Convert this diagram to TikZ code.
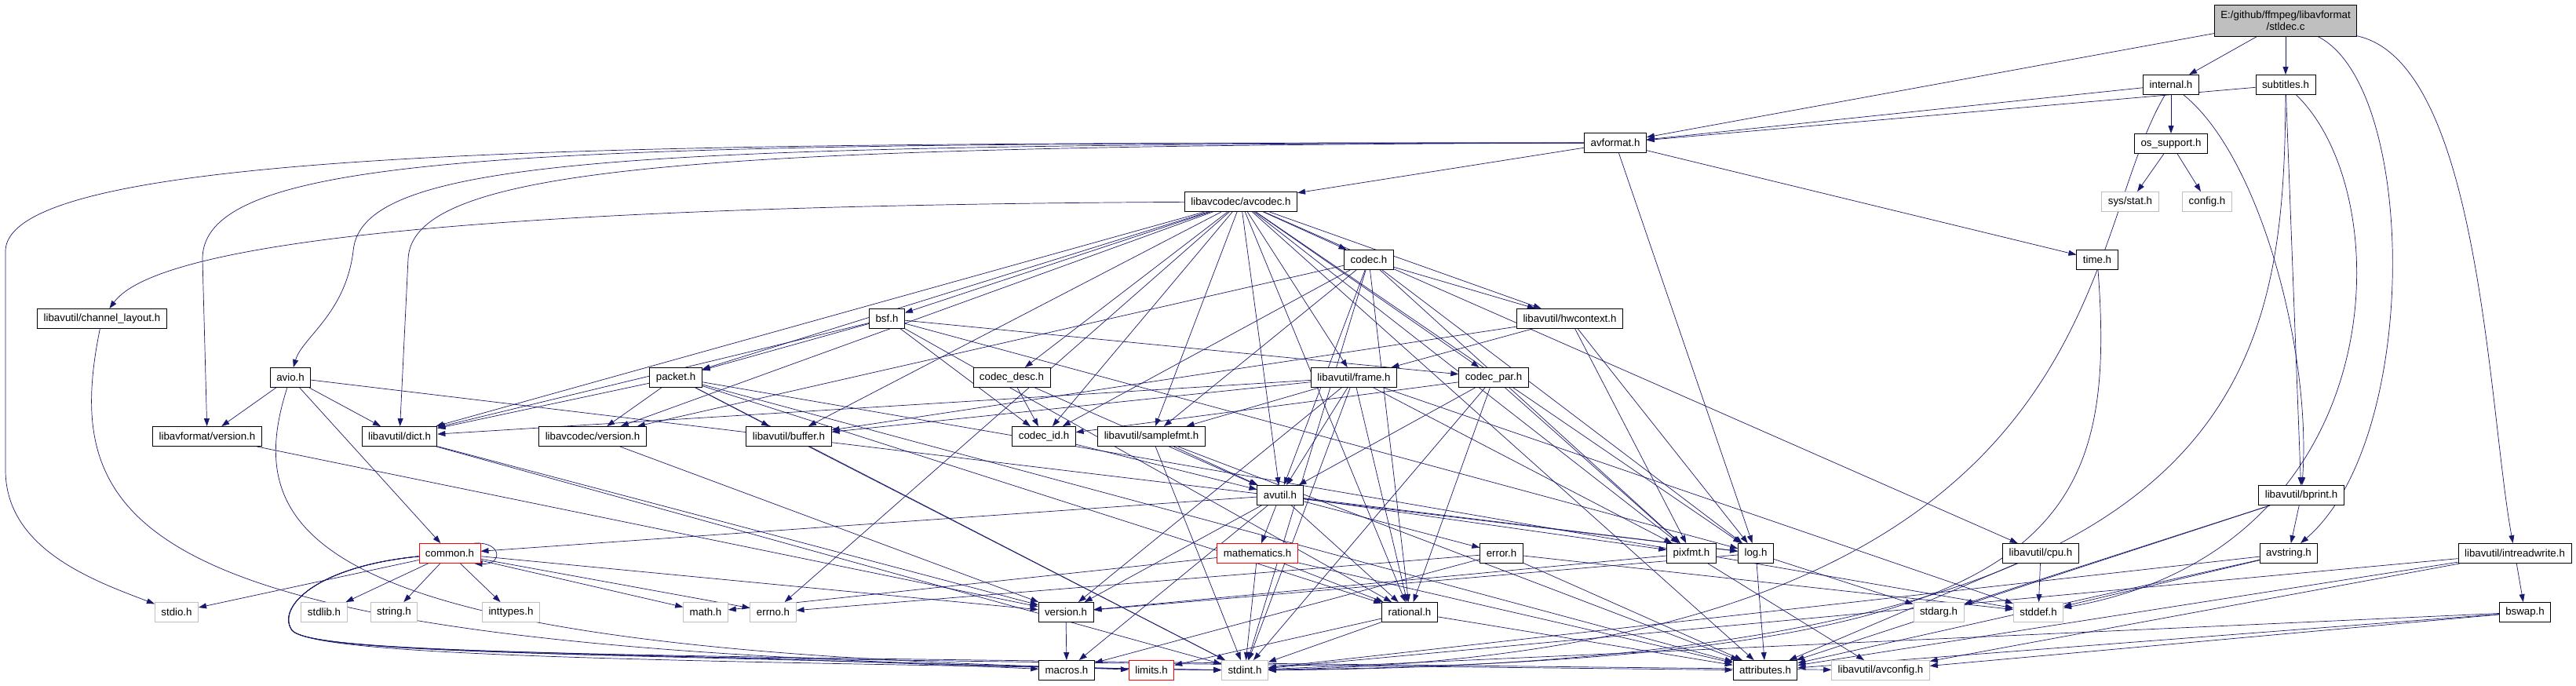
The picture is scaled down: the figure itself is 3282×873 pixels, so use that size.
\documentclass[tikz,border=0pt]{standalone}
\usepackage{fontspec}
\setmainfont{Liberation Sans}
\usetikzlibrary{arrows.meta}
\definecolor{navyblue}{RGB}{25,25,112}
\pgfdeclarelayer{background}
\pgfsetlayers{background,main}
\begin{document}
\begin{tikzpicture}[
  x=1pt, y=-1pt,
  file/.style={rectangle, draw=black, fill=white, line width=0.9pt,
               minimum height=25pt, inner xsep=8pt, inner ysep=0pt,
               font=\fontsize{13.3}{15}\selectfont},
  sysfile/.style={file, draw=gray!50},
  trunc/.style={file, draw=red},
  mainfile/.style={file, fill=gray!50, align=center, minimum height=40pt},
  edge/.style={-{Triangle[length=10pt,width=7pt]}, navyblue, line width=0.7pt}
]
  \useasboundingbox (0,0) rectangle (3282,873);

  % Top
  \node[mainfile] (stldec) at (2912,26) {E:/github/ffmpeg/libavformat\\/stldec.c};
  \node[file] (internal) at (2766,108) {internal.h};
  \node[file] (subtitles) at (2912,108) {subtitles.h};
  \node[file] (osupport) at (2766,183) {os\_support.h};
  \node[sysfile] (sysstat) at (2714,257) {sys/stat.h};
  \node[sysfile] (config) at (2812,257) {config.h};
  \node[file] (avformat) at (2058,182) {avformat.h};
  \node[file] (avcodec) at (1581,257) {libavcodec/avcodec.h};
  \node[file] (time) at (2672,331) {time.h};
  \node[file] (codec) at (1744,331) {codec.h};

  % libavcodec / libavformat headers
  \node[file] (chlayout) at (130,406) {libavutil/channel\_layout.h};
  \node[file] (bsf) at (1130,406) {bsf.h};
  \node[file] (hwcontext) at (2000,406) {libavutil/hwcontext.h};
  \node[file] (avio) at (370,481) {avio.h};
  \node[file] (packet) at (861,481) {packet.h};
  \node[file] (codecdesc) at (1289,481) {codec\_desc.h};
  \node[file] (frame) at (1725,481) {libavutil/frame.h};
  \node[file] (codecpar) at (1903,481) {codec\_par.h};
  \node[file] (fmtversion) at (264,556) {libavformat/version.h};
  \node[file] (dict) at (509,556) {libavutil/dict.h};
  \node[file] (avcversion) at (755,556) {libavcodec/version.h};
  \node[file] (buffer) at (1005,556) {libavutil/buffer.h};
  \node[file] (codecid) at (1330,556) {codec\_id.h};
  \node[file] (samplefmt) at (1467,556) {libavutil/samplefmt.h};

  % libavutil headers
  \node[file] (avutil) at (1631,631) {avutil.h};
  \node[file] (bprint) at (2932,631) {libavutil/bprint.h};
  \node[trunc] (common) at (573,705) {common.h};
  \node[trunc] (mathematics) at (1602,705) {mathematics.h};
  \node[file] (error) at (1913,705) {error.h};
  \node[file] (pixfmt) at (2155,705) {pixfmt.h};
  \node[file] (log) at (2237,705) {log.h};
  \node[file] (cpu) at (2600,705) {libavutil/cpu.h};
  \node[file] (avstring) at (2916,705) {avstring.h};
  \node[file] (intreadwrite) at (3204,705) {libavutil/intreadwrite.h};
  \node[file] (version) at (1358,780) {version.h};
  \node[file] (rational) at (1796,780) {rational.h};
  \node[file] (bswap) at (3217,780) {bswap.h};
  \node[file] (macros) at (1359,854) {macros.h};
  \node[trunc] (limits) at (1467,854) {limits.h};
  \node[file] (attributes) at (2249,854) {attributes.h};

  % System headers
  \node[sysfile] (stdio) at (225,780) {stdio.h};
  \node[sysfile] (stdlib) at (413,780) {stdlib.h};
  \node[sysfile] (string) at (502,780) {string.h};
  \node[sysfile] (inttypes) at (651,780) {inttypes.h};
  \node[sysfile] (math) at (899,780) {math.h};
  \node[sysfile] (errno) at (985,780) {errno.h};
  \node[sysfile] (stdarg) at (2470,780) {stdarg.h};
  \node[sysfile] (stddef) at (2597,780) {stddef.h};
  \node[sysfile] (stdint) at (1586,854) {stdint.h};
  \node[sysfile] (avconfig) at (2396,854) {libavutil/avconfig.h};

  \begin{pgfonlayer}{background}
  % Straight includes
  \foreach \a/\b in {stldec/internal, stldec/subtitles, stldec/avformat,
      internal/avformat, internal/osupport, subtitles/avformat, subtitles/bprint,
      osupport/sysstat, osupport/config,
      avformat/avcodec, avformat/time, avformat/log} {
    \draw[edge] (\a) -- (\b);
  }
  \foreach \b in {errno, samplefmt, attributes, avutil, buffer, cpu, dict, frame,
      hwcontext, log, pixfmt, rational, bsf, codec, codecdesc, codecid, codecpar,
      packet, avcversion} {
    \draw[edge] (avcodec) -- (\b);
  }
  \foreach \b in {stdint, avutil, hwcontext, log, pixfmt, rational, samplefmt,
      codecid, avcversion} {
    \draw[edge] (codec) -- (\b);
  }
  \foreach \a/\b in {bsf/dict, bsf/log, bsf/rational, bsf/codecid, bsf/codecpar,
      bsf/packet, codecdesc/avutil, codecdesc/codecid, codecid/avutil,
      codecpar/stdint, codecpar/avutil, codecpar/rational, codecpar/pixfmt,
      codecpar/codecid,
      packet/stddef, packet/stdint, packet/attributes, packet/buffer, packet/dict,
      packet/rational, packet/avcversion,
      hwcontext/buffer, hwcontext/frame, hwcontext/log, hwcontext/pixfmt,
      frame/stddef, frame/stdint, frame/avutil, frame/buffer, frame/dict,
      frame/rational, frame/samplefmt, frame/pixfmt, frame/version,
      samplefmt/stdint, samplefmt/avutil, samplefmt/attributes,
      buffer/stdint, dict/stdint, dict/version,
      avio/common, avio/dict, avio/log, avio/fmtversion,
      fmtversion/version, avcversion/version} {
    \draw[edge] (\a) -- (\b);
  }
  \foreach \b in {common, error, rational, version, macros, mathematics, log, pixfmt} {
    \draw[edge] (avutil) -- (\b);
  }
  \foreach \b in {errno, inttypes, math, stdio, stdlib, string, version} {
    \draw[edge] (common) -- (\b);
  }
  \foreach \a/\b in {mathematics/stdint, mathematics/math, mathematics/attributes,
      mathematics/rational, error/errno, error/stddef, error/attributes,
      error/macros, rational/stdint, rational/limits, rational/attributes,
      pixfmt/avconfig, pixfmt/version, log/stdarg, log/attributes, log/version,
      cpu/stddef, cpu/attributes, bprint/stdarg, bprint/attributes,
      bprint/avstring, avstring/stddef, avstring/stdint, avstring/attributes,
      intreadwrite/stdint, intreadwrite/avconfig, intreadwrite/attributes,
      intreadwrite/bswap, bswap/stdint, bswap/avconfig, bswap/attributes,
      version/macros} {
    \draw[edge] (\a) -- (\b);
  }

  % Routed includes
  \draw[edge] (stldec) .. controls (3080,110) and (3085,560) .. (avstring);
  \draw[edge] (stldec) .. controls (3160,80) and (3170,520) .. (intreadwrite);
  \draw[edge] (internal) .. controls (2880,200) and (2945,450) .. (bprint);
  \draw[edge] (internal) .. controls (2640,320) and (2700,830) .. (stdint);
  \draw[edge] (subtitles) .. controls (2910,500) and (2850,845) .. (stdint);
  \draw[edge] (subtitles) .. controls (3060,250) and (3050,700) .. (stddef);
  \draw[edge] (avformat) .. controls (900,182) and (8,180) .. (7,320)
    -- (7,600) .. controls (8,700) and (120,740) .. (stdio);
  \draw[edge] (avformat) .. controls (700,182) and (258,190) .. (258,330)
    -- (fmtversion);
  \draw[edge] (avformat) .. controls (800,184) and (460,200) .. (450,320)
    .. controls (440,400) and (385,430) .. (avio);
  \draw[edge] (avformat) .. controls (900,186) and (525,210) .. (520,330)
    -- (dict);
  \draw[edge] (avcodec) .. controls (600,262) and (200,310) .. (chlayout);
  \draw[edge] (chlayout) .. controls (70,700) and (200,838) .. (stdint);
  \draw[edge] (avio) .. controls (300,700) and (420,840) .. (stdint);
  \draw[edge] (time) .. controls (2700,700) and (2600,840) .. (stdint);
  \foreach \b/\y in {stdint/842, attributes/838, avconfig/836, limits/832, macros/828} {
    \draw[edge] (common) .. controls (400,722) and (352,775) .. (372,803)
      .. controls (400,835) and (800,\y) .. (\b);
  }
  \draw[edge] ([xshift=-8pt]common.north east) .. controls +(36,-2) and +(36,2)
    .. ([xshift=-8pt]common.south east);
  \end{pgfonlayer}
\end{tikzpicture}
\end{document}
